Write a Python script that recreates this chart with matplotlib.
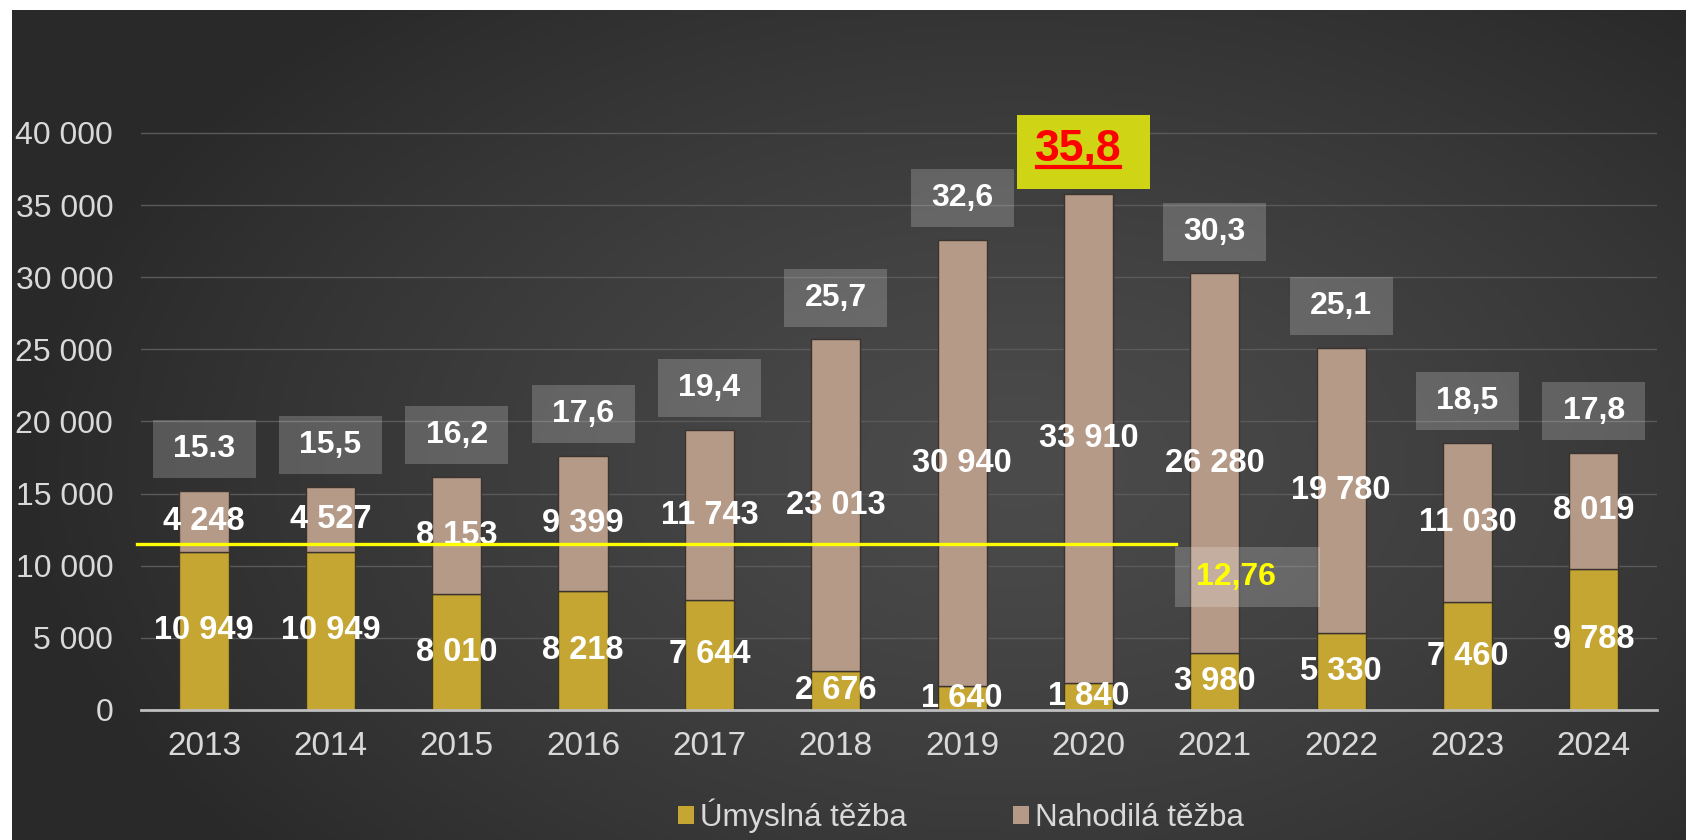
import numpy as np
import matplotlib
matplotlib.use("Agg")
import matplotlib.pyplot as plt
from matplotlib.patches import Rectangle
from matplotlib.lines import Line2D

plt.rcParams["font.family"] = ["Liberation Sans", "DejaVu Sans"]

# data
years = ["2013", "2014", "2015", "2016", "2017", "2018",
         "2019", "2020", "2021", "2022", "2023", "2024"]
umyslna = [10949, 10949, 8010, 8218, 7644, 2676, 1640, 1840, 3980, 5330, 7460, 9788]
nahodila = [4248, 4527, 8153, 9399, 11743, 23013, 30940, 33910, 26280, 19780, 11030, 8019]
total_labels = ["15.3", "15,5", "16,2", "17,6", "19,4", "25,7",
                "32,6", "35,8", "30,3", "25,1", "18,5", "17,8"]
highlight_year = "2020"
avg_value = 11530
avg_label = "12,76"

GOLD = "#c6a632"
TAN = "#b59a88"
TXT = "#d9d9d9"


def fmt(v):
    return f"{v:,}".replace(",", " ")


fig = plt.figure(figsize=(16.86, 8.4), dpi=100, facecolor="white")

# dark gradient background
bg = fig.add_axes([12 / 1686, 0, 1 - 12 / 1686, 1 - 10 / 840], zorder=-10)
gx, gy = np.meshgrid(np.linspace(0, 1, 400), np.linspace(0, 1, 200))
r = np.sqrt(((gx - 0.6) / 0.6) ** 2 + ((gy - 0.45) / 0.75) ** 2)
shade = 0x4b - (0x4b - 0x29) * np.clip(r, 0, 1) ** 1.3
img = np.dstack([shade, shade, shade]) / 255.0
bg.imshow(img, aspect="auto", extent=(0, 1, 0, 1), origin="lower")
bg.axis("off")

ax = fig.add_axes([0.0836, 0.1548, 0.8992, 0.7556])
ax.set_facecolor("none")
x = np.arange(len(years))
totals = [a + b for a, b in zip(umyslna, nahodila)]

w = 0.39
ax.bar(x, umyslna, w, color=GOLD, edgecolor="#3b3620", linewidth=1, zorder=3,
       label="Úmyslná těžba")
ax.bar(x, nahodila, w, bottom=umyslna, color=TAN, edgecolor="#3a332e", linewidth=1,
       zorder=3, label="Nahodilá těžba")

ax.set_xlim(-0.5, len(years) - 0.5)
ax.set_ylim(0, 44000)
ax.set_yticks(range(0, 40001, 5000))
ax.set_yticklabels([fmt(v) for v in range(0, 40001, 5000)])
ax.set_xticks(x)
ax.set_xticklabels(years)
ax.tick_params(axis="y", length=0, pad=20, labelsize=23, labelcolor=TXT)
ax.tick_params(axis="x", length=0, pad=15, labelsize=24, labelcolor=TXT)
ax.grid(axis="y", color="#5a5a5a", linewidth=1, zorder=0)
for s in ["top", "right", "left"]:
    ax.spines[s].set_visible(False)
ax.spines["bottom"].set_color("#bfbfbf")
ax.spines["bottom"].set_linewidth(2)
ax.spines["bottom"].set_zorder(4)

# segment labels
for i in x:
    ax.text(i, umyslna[i] / 2, fmt(umyslna[i]), ha="center", va="center",
            color="white", fontsize=23.5, fontweight="bold", zorder=6)
    ax.text(i, umyslna[i] + nahodila[i] / 2, fmt(nahodila[i]), ha="center", va="center",
            color="white", fontsize=23.5, fontweight="bold", zorder=6)

# total boxes
hl_text = None
for i in x:
    cy = totals[i] + 2900
    if years[i] == highlight_year:
        bw, bh = 1.05, 5130
        ax.add_patch(Rectangle((i - 0.04 - bw / 2, cy - bh / 2), bw, bh,
                               facecolor="#cfd414", edgecolor="none", zorder=5,
                               clip_on=False))
        hl_text = ax.text(i - 0.08, cy + 200, total_labels[i], ha="center", va="center",
                          color="#ff0000", fontsize=32, fontweight="bold", zorder=6)
    else:
        bw, bh = 0.815, 4020
        ax.add_patch(Rectangle((i - bw / 2, cy - bh / 2), bw, bh,
                               facecolor="white", alpha=0.2, edgecolor="none", zorder=5))
        ax.text(i, cy, total_labels[i], ha="center", va="center",
                color="white", fontsize=23, fontweight="bold", zorder=6)

# average line and label
ax.plot([-0.53, 7.69], [avg_value, avg_value], color="#ffff00", linewidth=2.4,
        zorder=7, clip_on=False)
ax.add_patch(Rectangle((8.26 - 1.147 / 2, 9223 - 4160 / 2), 1.147, 4160,
                       facecolor="white", alpha=0.2, edgecolor="none", zorder=5))
ax.text(8.165, 9223, avg_label, ha="center", va="center", color="#ffff00",
        fontsize=23, fontweight="bold", zorder=6)

# legend
leg = fig.legend(loc="center", bbox_to_anchor=(0.57, 0.029), ncol=2, frameon=False,
                 fontsize=22.5, labelcolor=TXT, handlelength=0.5, handleheight=0.5,
                 handletextpad=0.2, columnspacing=3.4)
for h in leg.legend_handles:
    h.set_edgecolor("none")

# underline the highlighted total
fig.canvas.draw()
bb = hl_text.get_window_extent()
inv = fig.transFigure.inverted()
(x0, y0), (x1, _) = inv.transform([(bb.x0 + 2, bb.y0 + 3), (bb.x1 - 2, bb.y0 + 3)])
fig.add_artist(Line2D([x0, x1], [y0, y0], color="#ff0000", linewidth=3,
                      transform=fig.transFigure, zorder=8))

fig.savefig("out.png", dpi=100, facecolor=fig.get_facecolor())
plt.close(fig)
